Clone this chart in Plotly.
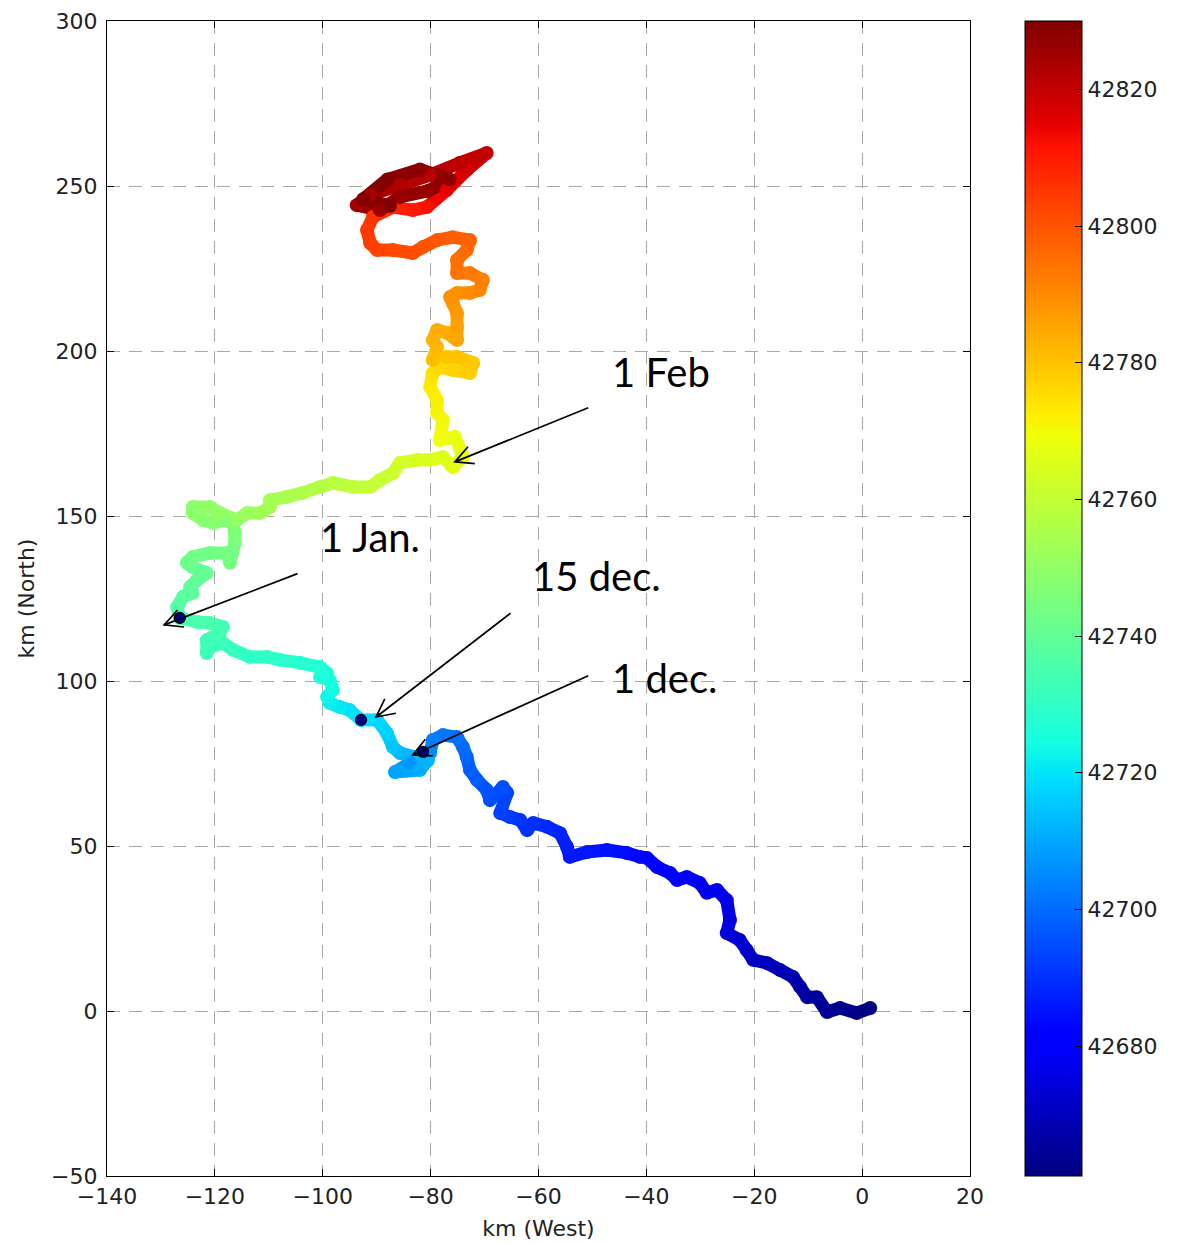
import math
import plotly.graph_objects as go

# Track positions (km West, km North), in time order
x_km = [1.5, -1.0, -4.1, -6.5, -8.4, -10.2, -11.5, -12.8, -15.2, -17.6,
        -20.2, -21.4, -22.7, -25.1, -24.5, -25.1, -26.9, -28.8, -30.1, -32.5,
        -34.3, -35.6, -38.0, -39.9, -41.2, -43.6, -47.3, -51.0, -54.2, -54.7,
        -56.0, -58.4, -61.0, -62.1, -63.4, -65.3, -67.1, -65.8, -66.6, -69.0,
        -69.6, -71.4, -72.7, -73.3, -74.0, -75.1, -77.7, -79.6, -80.1, -83.8,
        -86.6, -82.0, -80.5, -85.7, -87.0, -88.1, -89.9, -92.9, -95.0, -96.8, -98.7,
        -99.2, -98.1, -98.7, -100.5, -99.2, -100.5, -104.2, -107.9, -110.3, -113.5,
        -116.6, -118.5, -120.9, -121.5, -121.5, -119.1, -118.5, -120.9, -123.3, -126.5,
        -127.0, -125.9, -124.1, -124.6, -123.3, -121.5, -124.1, -125.2, -124.1, -120.9,
        -117.8, -117.2, -116.3, -116.3, -116.6, -118.5, -120.3, -122.2, -124.1, -124.1,
        -120.9, -119.1, -115.9, -114.0, -111.6, -109.8, -109.8, -106.6, -103.7, -100.5,
        -98.1, -94.4, -91.2, -89.4, -87.0, -85.7, -82.5, -80.1, -77.7, -75.9,
        -74.0, -75.5,
        -78.3, -77.7, -78.8, -78.8, -80.1, -79.6, -78.3, -75.9, -72.7, -72.1,
        -75.1, -77.0, -79.6, -78.8, -79.6, -78.8, -77.0, -75.1, -75.1, -75.1,
        -75.9, -76.4, -75.1, -72.7, -70.9, -70.3, -72.7, -75.1, -75.1, -73.3,
        -72.7, -75.9, -78.8, -81.4, -83.3, -87.0, -89.9, -91.2, -91.8, -90.7,
        -87.0, -83.3, -80.7, -77.0, -73.3, -69.6, -74.6, -80.1, -85.7, -91.2,
        -93.7, -89.4, -85.7, -80.5, -76.5, -82.0, -88.0, -92.5, -87.5]
y_km = [0.9, -0.6, 0.9, -0.3, 4.2, 4.2, 7.3, 10.3, 12.4, 14.5,
        15.5, 18.5, 21.5, 23.6, 27.6, 33.6, 36.7, 35.8, 38.8, 40.6,
        39.7, 41.8, 43.6, 46.4, 46.7, 47.9, 48.8, 48.2, 46.7, 49.7,
        53.9, 55.8, 57.0, 54.8, 57.9, 58.8, 60.0, 66.1, 67.9, 63.9,
        67.0, 70.0, 73.0, 77.0, 80.0, 83.0, 83.6, 82.1, 78.2, 75.2,
        72.4, 73.0, 76.0, 78.2, 80.0, 84.2, 88.2, 88.2, 91.2, 92.1, 93.3,
        95.2, 97.3, 100.3, 101.2, 102.4, 104.2, 105.5, 106.4, 107.3, 107.3,
        109.4, 111.5, 110.3, 108.5, 112.4, 114.5, 116.4, 117.6, 117.9, 119.1,
        122.4, 125.5, 126.7, 128.5, 130.6, 132.7, 134.5, 135.8, 137.6, 138.8,
        138.8, 135.8, 141.8, 144.8, 147.9, 148.8, 147.9, 148.8, 150.9, 152.7,
        152.7, 150.9, 148.8, 150.9, 150.9, 152.7, 154.8, 155.8, 157.0, 158.8,
        160.0, 158.8, 158.8, 160.9, 163.0, 166.1, 167.0, 167.0, 167.9, 164.8,
        168.0, 174.0,
        173.0, 179.1, 181.2, 185.2, 189.1, 193.3, 195.2, 194.2, 193.3, 196.4,
        198.2, 198.2, 197.3, 201.2, 203.3, 206.4, 205.5, 203.3, 207.3, 211.5,
        214.5, 216.4, 217.6, 217.6, 218.5, 221.5, 223.6, 223.6, 227.6, 230.6,
        233.6, 234.5, 233.6, 231.5, 229.7, 230.6, 230.6, 232.7, 236.7, 240.6,
        243.6, 242.7, 243.6, 248.8, 254.8, 260.0, 257.0, 253.3, 250.3, 247.3,
        244.2, 242.7, 246.7, 248.5, 252.0, 255.0, 252.0, 246.0, 244.0]
# Time (Excel day number) of each track point
t_day = [42661, 42662, 42663, 42664, 42665, 42666, 42667, 42668, 42669, 42670,
         42671, 42672, 42673, 42674, 42675, 42676, 42677, 42677, 42678, 42679,
         42679, 42680, 42681, 42682, 42683, 42684, 42685, 42686, 42686, 42687,
         42688, 42689, 42690, 42690, 42691, 42692, 42693, 42694, 42695, 42695,
         42696, 42697, 42698, 42699, 42700, 42701, 42702, 42703, 42705, 42707,
         42709, 42711, 42712, 42713, 42715, 42717, 42718, 42719, 42720, 42721, 42722,
         42723, 42724, 42725, 42726, 42726, 42727, 42728, 42729, 42730, 42730,
         42731, 42732, 42732, 42733, 42733, 42734, 42734, 42735, 42735, 42736,
         42737, 42738, 42739, 42739, 42740, 42741, 42741, 42742, 42743, 42743,
         42744, 42744, 42745, 42746, 42747, 42747, 42748, 42748, 42749, 42749,
         42750, 42750, 42751, 42752, 42753, 42754, 42754, 42755, 42756, 42757,
         42758, 42759, 42760, 42761, 42762, 42763, 42764, 42765, 42766, 42767,
         42768, 42768,
         42769, 42770, 42771, 42772, 42773, 42775, 42776, 42777, 42778, 42779,
         42780, 42780, 42781, 42782, 42783, 42784, 42784, 42785, 42786, 42787,
         42788, 42789, 42789, 42790, 42791, 42792, 42793, 42794, 42795, 42796,
         42797, 42798, 42799, 42800, 42801, 42802, 42803, 42804, 42805, 42806,
         42808, 42810, 42812, 42815, 42818, 42820, 42821, 42822, 42823, 42824,
         42825, 42826, 42827, 42827, 42828, 42828, 42829, 42829, 42830]

# Dated markers and annotations
mark_x = [-81.4, -92.9, -126.5]
mark_y = [78.5, 88.2, 119.1]
label_text = ["1 Feb", "1 Jan.", "15 dec.", "1 dec."]
label_x = [-46.7, -100.9, -61.6, -46.7]
label_y = [193.6, 143.6, 131.8, 100.9]
arrow_tail_x = [-50.5, -104.4, -64.9, -50.5]
arrow_tail_y = [183.0, 132.7, 120.9, 101.8]
arrow_head_x = [-75.5, -129.4, -90.1, -83.3]
arrow_head_y = [166.4, 117.0, 89.1, 77.6]

x_ticks = [-140, -120, -100, -80, -60, -40, -20, 0, 20]
y_ticks = [-50, 0, 50, 100, 150, 200, 250, 300]
cb_ticks = [42680, 42700, 42720, 42740, 42760, 42780, 42800, 42820]
t_min, t_max = 42661, 42830
x_range = [-140, 20]
y_range = [-50, 300]

# layout geometry (pixels)
W, H = 1178, 1244
M_L, M_R, M_T, M_B = 99, 216, 13, 76
px_per_x = (W - M_L - M_R) / (x_range[1] - x_range[0])
px_per_y = (H - M_T - M_B) / (y_range[1] - y_range[0])

# matplotlib "jet"
_jet = {
    "r": [(0, 0), (0.35, 0), (0.66, 1), (0.89, 1), (1, 0.5)],
    "g": [(0, 0), (0.125, 0), (0.375, 1), (0.64, 1), (0.91, 0), (1, 0)],
    "b": [(0, 0.5), (0.11, 1), (0.34, 1), (0.65, 0), (1, 0)],
}


def _chan(pts, f):
    for (x0, v0), (x1, v1) in zip(pts[:-1], pts[1:]):
        if x0 <= f <= x1:
            return v0 + (v1 - v0) * (f - x0) / (x1 - x0) if x1 > x0 else v1
    return pts[-1][1]


def jet(f):
    f = min(max(f, 0.0), 1.0)
    r, g, b = (_chan(_jet[c], f) for c in "rgb")
    return f"rgb({round(r*255)},{round(g*255)},{round(b*255)})"


stops = sorted({0, 0.11, 0.125, 0.34, 0.35, 0.375, 0.64, 0.65, 0.66, 0.89, 0.91, 1})
jet_scale = [[s, jet(s)] for s in stops]

fig = go.Figure()

# coloured track segments
for i in range(len(x_km) - 1):
    tm = 0.5 * (t_day[i] + t_day[i + 1])
    fig.add_trace(go.Scatter(
        x=[x_km[i], x_km[i + 1]], y=[y_km[i], y_km[i + 1]], mode="lines",
        line=dict(color=jet((tm - t_min) / (t_max - t_min)), width=13),
        showlegend=False, hoverinfo="skip"))

fig.add_trace(go.Scatter(
    x=x_km, y=y_km, mode="markers",
    marker=dict(size=14, color=t_day, colorscale=jet_scale, cmin=t_min, cmax=t_max,
                line=dict(width=0),
                colorbar=dict(
                    thickness=57, thicknessmode="pixels", len=1, lenmode="fraction",
                    x=1.0637, xanchor="left", xpad=0, y=0.5, yanchor="middle", ypad=0,
                    outlinecolor="black", outlinewidth=1,
                    tickvals=cb_ticks, tickformat="d", ticks="inside", ticklen=7,
                    tickcolor="black",
                    tickfont=dict(family="DejaVu Sans", size=22, color="#222"))),
    showlegend=False, hoverinfo="skip"))

fig.add_trace(go.Scatter(
    x=mark_x, y=mark_y, mode="markers",
    marker=dict(size=11, color="#00008f", line=dict(color="black", width=1.2)),
    showlegend=False, hoverinfo="skip"))

arm_len, half_ang = 20.0, math.radians(27)
for i in range(len(label_text)):
    fig.add_annotation(x=label_x[i], y=label_y[i], text=label_text[i], showarrow=False,
                       xanchor="left", yanchor="middle",
                       font=dict(family="Lato", size=40, color="black"))
    # arrow shaft
    fig.add_annotation(x=arrow_head_x[i], y=arrow_head_y[i], ax=arrow_tail_x[i], ay=arrow_tail_y[i],
                       xref="x", yref="y", axref="x", ayref="y", text="",
                       showarrow=True, arrowhead=0, arrowwidth=1.7, arrowcolor="black")
    # open V arrow head, drawn in pixel offsets from the head point
    ux = (arrow_tail_x[i] - arrow_head_x[i]) * px_per_x
    uy = (arrow_tail_y[i] - arrow_head_y[i]) * px_per_y
    n = math.hypot(ux, uy)
    ux, uy = ux / n, uy / n
    pts = []
    for s in (1, -1):
        c, sn = math.cos(s * half_ang), math.sin(s * half_ang)
        pts.append((arm_len * (ux * c - uy * sn), arm_len * (ux * sn + uy * c)))
    path = f"M{pts[0][0]:.1f},{pts[0][1]:.1f} L0,0 L{pts[1][0]:.1f},{pts[1][1]:.1f}"
    fig.add_shape(type="path", xref="x", yref="y", xsizemode="pixel", ysizemode="pixel",
                  xanchor=arrow_head_x[i], yanchor=arrow_head_y[i], path=path,
                  line=dict(color="black", width=1.7))

axis_common = dict(showgrid=True, gridcolor="#a8a8a8", gridwidth=1.3, griddash="13px,9px",
                   zeroline=False, showline=True, linecolor="black", linewidth=1.3,
                   mirror="ticks", ticks="inside", ticklen=7, tickcolor="black",
                   automargin=False,
                   tickfont=dict(family="DejaVu Sans", size=22, color="#222"))

fig.update_xaxes(range=x_range, tickvals=x_ticks, **axis_common,
                 title=dict(text="km (West)", standoff=13,
                            font=dict(family="DejaVu Sans", size=22, color="#222")))
fig.update_yaxes(range=y_range, tickvals=y_ticks, ticklabelstandoff=4, **axis_common,
                 title=dict(text="km (North)", standoff=10,
                            font=dict(family="DejaVu Sans", size=22, color="#222")))

fig.update_layout(width=W, height=H, autosize=False,
                  margin=dict(l=M_L, r=M_R, t=M_T, b=M_B),
                  plot_bgcolor="white", paper_bgcolor="white")

fig.write_html("out.html")
